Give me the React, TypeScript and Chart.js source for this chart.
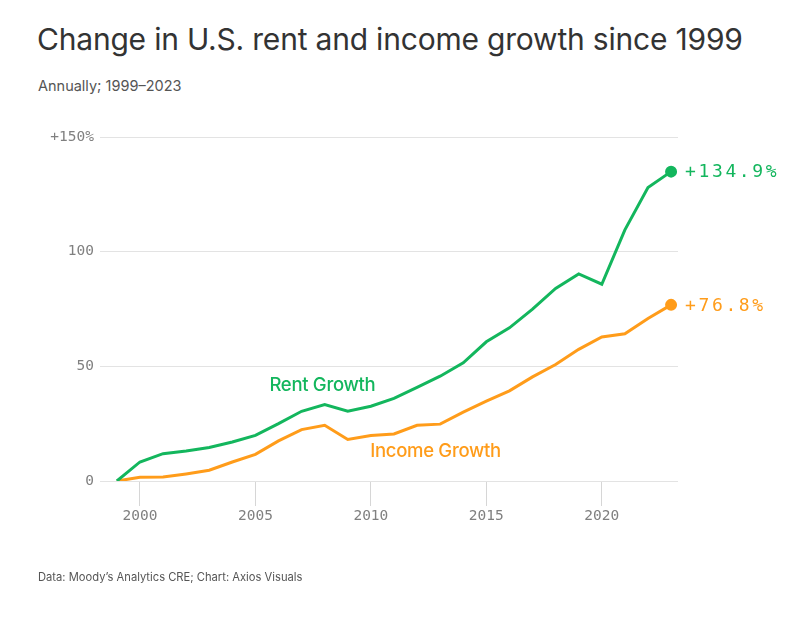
import React, { useEffect, useRef } from "react";
import { Chart, registerables } from "chart.js";

Chart.register(...registerables);

const years = [
  1999, 2000, 2001, 2002, 2003, 2004, 2005, 2006, 2007, 2008, 2009, 2010, 2011,
  2012, 2013, 2014, 2015, 2016, 2017, 2018, 2019, 2020, 2021, 2022, 2023,
];
const rentGrowth = [
  0, 8.3, 11.9, 13.1, 14.6, 17.0, 19.9, 25.0, 30.4, 33.3, 30.4, 32.6, 36.0,
  40.8, 45.7, 51.5, 60.7, 66.8, 74.9, 84.0, 90.3, 85.8, 109.5, 128.0, 134.9,
];
const incomeGrowth = [
  0, 1.6, 1.7, 3.1, 4.7, 8.3, 11.6, 17.5, 22.4, 24.3, 18.1, 19.8, 20.5, 24.3,
  24.8, 30.0, 34.8, 39.3, 45.4, 50.8, 57.4, 62.8, 64.2, 70.9, 76.8,
];
const xTicks = [2000, 2005, 2010, 2015, 2020];
const yTicks = [0, 50, 100, 150];

const GREEN = "#13b65d";
const ORANGE = "#ff9c1a";
const MONO = "'DejaVu Sans Mono', 'Liberation Mono', monospace";
const SANS = "Inter, 'Noto Sans', sans-serif";

// Series name labels placed in data space, plus value labels at line ends
const seriesLabels = [
  { text: "Rent Growth", year: 2007.9, value: 41.8, color: GREEN },
  { text: "Income Growth", year: 2012.8, value: 13.0, color: ORANGE },
];

const labelPlugin = {
  id: "lineLabels",
  afterDatasetsDraw(chart: any) {
    const { ctx, scales } = chart;
    ctx.save();
    ctx.font = `500 18.5px ${SANS}`;
    ctx.textAlign = "center";
    ctx.textBaseline = "middle";
    (ctx as any).letterSpacing = "-0.3px";
    for (const l of seriesLabels) {
      ctx.fillStyle = l.color;
      ctx.fillText(l.text, scales.x.getPixelForValue(l.year), scales.y.getPixelForValue(l.value));
    }
    ctx.font = `18px ${MONO}`;
    ctx.textAlign = "left";
    (ctx as any).letterSpacing = "2.6px";
    chart.data.datasets.forEach((ds: any, i: number) => {
      const meta = chart.getDatasetMeta(i);
      const last = meta.data[meta.data.length - 1];
      const v = ds.data[ds.data.length - 1].y;
      ctx.fillStyle = ds.borderColor;
      ctx.fillText(`+${v.toFixed(1)}%`, last.x + 14, last.y + 1);
    });
    ctx.restore();
  },
};

export default function App() {
  const ref = useRef<HTMLCanvasElement>(null);

  useEffect(() => {
    const toPoints = (vals: number[]) => years.map((y, i) => ({ x: y, y: vals[i] }));
    const lastOnly = (n: number, r: number) => (ctx: any) => (ctx.dataIndex === n - 1 ? r : 0);
    const chart = new Chart(ref.current!, {
      type: "line",
      data: {
        datasets: [
          {
            label: "Rent Growth",
            data: toPoints(rentGrowth),
            borderColor: GREEN,
            backgroundColor: GREEN,
            borderWidth: 3,
            pointRadius: lastOnly(years.length, 4.5),
            pointHoverRadius: 0,
            tension: 0,
          },
          {
            label: "Income Growth",
            data: toPoints(incomeGrowth),
            borderColor: ORANGE,
            backgroundColor: ORANGE,
            borderWidth: 3,
            pointRadius: lastOnly(years.length, 4.5),
            pointHoverRadius: 0,
            tension: 0,
          },
        ],
      },
      options: {
        animation: false,
        responsive: false,
        maintainAspectRatio: false,
        layout: { padding: { left: 0, right: 129, top: 137, bottom: 88 } },
        plugins: { legend: { display: false }, tooltip: { enabled: false } },
        scales: {
          x: {
            type: "linear",
            min: 1998.27,
            max: 2023.3,
            afterBuildTicks: (s: any) => {
              s.ticks = xTicks.map((v) => ({ value: v }));
            },
            afterFit: (s: any) => {
              s.height = 50;
            },
            border: { display: false },
            grid: {
              drawOnChartArea: false,
              drawTicks: true,
              tickLength: 25,
              tickColor: "#d6d6d6",
              tickWidth: 1,
            },
            ticks: {
              padding: 2,
              color: "#808080",
              font: { family: MONO, size: 14.5 },
              callback: (v: any) => String(v),
            },
          },
          y: {
            min: 0,
            max: 150,
            afterBuildTicks: (s: any) => {
              s.ticks = yTicks.map((v) => ({ value: v }));
            },
            afterFit: (s: any) => {
              s.width = 100;
            },
            border: { display: false },
            grid: { color: "#e3e3e3", lineWidth: 1, drawTicks: false },
            ticks: {
              padding: 6,
              color: "#808080",
              font: { family: MONO, size: 14.5 },
              callback: (v: any) => (v === 150 ? "+150%" : String(v)),
            },
          },
        },
      },
      plugins: [labelPlugin],
    });
    return () => chart.destroy();
  }, []);

  return (
    <div style={{ position: "fixed", left: 0, top: 0, width: 807, height: 619, background: "#fff" }}>
      <div
        style={{
          position: "absolute",
          left: 37,
          top: 21,
          fontFamily: SANS,
          fontSize: 30,
          color: "#333",
          whiteSpace: "nowrap",
          letterSpacing: "-0.2px",
        }}
      >
        Change in U.S. rent and income growth since 1999
      </div>
      <div
        style={{
          position: "absolute",
          left: 38,
          top: 77,
          fontFamily: SANS,
          fontSize: 14.5,
          color: "#555",
          whiteSpace: "nowrap",
        }}
      >
        Annually; 1999–2023
      </div>
      <canvas ref={ref} width={807} height={619} style={{ position: "absolute", left: 0, top: 0 }} />
      <div
        style={{
          position: "absolute",
          left: 38,
          top: 570,
          fontFamily: SANS,
          fontSize: 11.2,
          color: "#555",
          whiteSpace: "nowrap",
        }}
      >
        Data: Moody’s Analytics CRE; Chart: Axios Visuals
      </div>
    </div>
  );
}
